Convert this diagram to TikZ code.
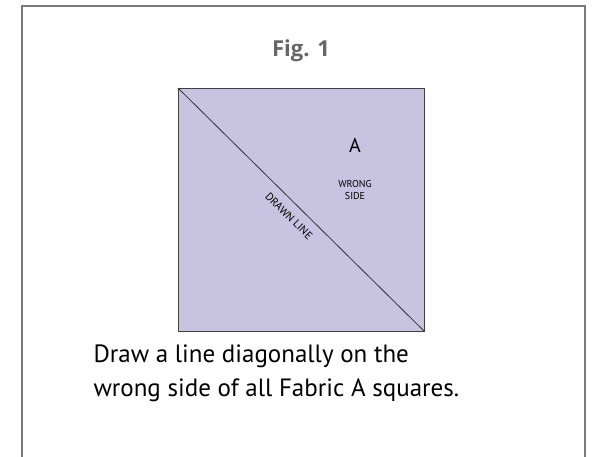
\documentclass[tikz,border=0pt]{standalone}
\usepackage{fontspec}
\setmainfont{PT Sans}
\newfontfamily\titlefont{Open Sans}
\definecolor{fabric}{HTML}{C8C3E1}
\definecolor{framegray}{HTML}{7A7A7A}
\definecolor{titlegray}{HTML}{666666}
\begin{document}
\begin{tikzpicture}[x=1pt,y=-1pt,
  frame/.style={draw=framegray,line width=1.2pt},
  square/.style={draw=black!75,fill=fabric,line width=1pt},
  diag/.style={draw=black!80,line width=0.8pt}]
\useasboundingbox (0,0) rectangle (598,456);
\fill[white] (0,0) rectangle (598,456);
\draw[frame] (22,470) -- (22,6) -- (585,6) -- (585,470);
\node[text=titlegray,font=\titlefont\fontsize{22}{24}\selectfont\bfseries] (title) at (301,51) {Fig. 1};
\coordinate (tl) at (178,88);
\coordinate (br) at (424,331);
\draw[square] (tl) rectangle (br);
\draw[diag] (tl) -- (br);
\node[font=\fontsize{20}{22}\selectfont] (A) at (355,145) {A};
\node[font=\fontsize{10}{12}\selectfont,align=center] (ws) at (355,190) {WRONG\\SIDE};
\node[font=\fontsize{11}{12}\selectfont,rotate=-44.6,inner sep=0pt] (dl) at (289,216) {DRAWN LINE};
\node[font=\fontsize{25}{34}\selectfont,align=left,anchor=north west] (txt) at (90,341) {Draw a line diagonally on the\\wrong side of all Fabric A squares.};
\end{tikzpicture}
\end{document}
